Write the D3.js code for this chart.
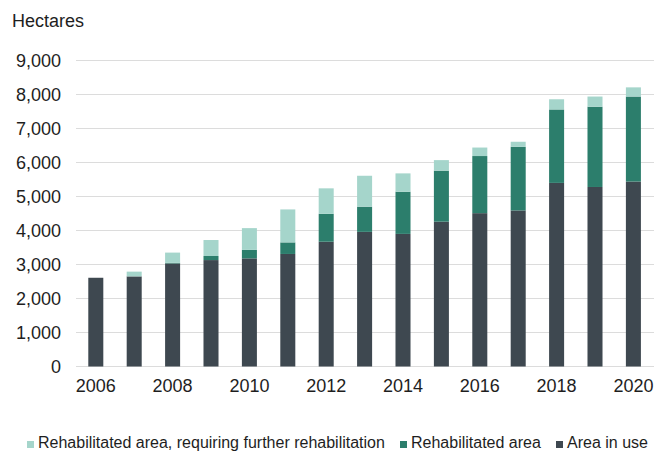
<!DOCTYPE html>
<html>
<head>
<meta charset="utf-8">
<script src="https://cdn.jsdelivr.net/npm/d3@7"></script>
<style>
  html, body { margin: 0; padding: 0; background: #fff; }
  svg { display: block; font-family: "Liberation Sans", Arial, sans-serif; }
</style>
</head>
<body>
<svg id="chart" width="654" height="452"></svg>
<script>
const years = [2006, 2007, 2008, 2009, 2010, 2011, 2012, 2013, 2014, 2015, 2016, 2017, 2018, 2019, 2020];
const areaInUse = [2610, 2650, 3030, 3130, 3180, 3310, 3670, 3960, 3900, 4260, 4510, 4590, 5400, 5280, 5440];
const rehabilitated = [0, 0, 20, 120, 250, 340, 820, 740, 1240, 1500, 1680, 1870, 2160, 2360, 2500];
const furtherRehab = [0, 140, 300, 470, 640, 970, 750, 910, 540, 310, 250, 150, 300, 300, 270];
const yTicks = [0, 1000, 2000, 3000, 4000, 5000, 6000, 7000, 8000, 9000];
const xTickLabels = [2006, 2008, 2010, 2012, 2014, 2016, 2018, 2020];
const seriesNames = ["Area in use", "Rehabilitated area", "Rehabilitated area, requiring further rehabilitation"];
const seriesColors = ["#3e4850", "#2c7e6c", "#a5d5cb"];
const legendOrder = [2, 1, 0];

const svg = d3.select("#chart");

const x = d3.scaleBand().domain(years).range([76.6, 652.6]).paddingInner(0.609).paddingOuter(0.3045);
const y = d3.scaleLinear().domain([0, 9000]).range([366.5, 60.5]);

// gridlines
svg.append("g").selectAll("line").data(yTicks).join("line")
  .attr("x1", 76).attr("x2", 654)
  .attr("y1", d => y(d)).attr("y2", d => y(d))
  .attr("stroke", "#dcdcdc").attr("stroke-width", 1);

// y axis labels
const yAxis = d3.axisLeft(y).tickValues(yTicks).tickFormat(d3.format(",")).tickSize(0).tickPadding(0);
const yg = svg.append("g").attr("transform", "translate(61,0)").call(yAxis);
yg.select(".domain").remove();
yg.selectAll("text").attr("font-size", 18).attr("fill", "#1e1e1e").attr("font-family", "Liberation Sans, Arial, sans-serif");

// x axis labels
const xAxis = d3.axisBottom(x).tickValues(xTickLabels).tickSize(0).tickPadding(0);
const xg = svg.append("g").attr("transform", "translate(0,379)").call(xAxis);
xg.select(".domain").remove();
xg.selectAll("text").attr("font-size", 18).attr("fill", "#1e1e1e").attr("font-family", "Liberation Sans, Arial, sans-serif");

// stacked bars
const table = years.map((yr, i) => ({ year: yr, s0: areaInUse[i], s1: rehabilitated[i], s2: furtherRehab[i] }));
const stack = d3.stack().keys(["s0", "s1", "s2"]);
const layers = stack(table);
svg.append("g").selectAll("g").data(layers).join("g")
  .attr("fill", (d, i) => seriesColors[i])
  .selectAll("rect").data(d => d).join("rect")
  .attr("x", d => x(d.data.year))
  .attr("width", x.bandwidth())
  .attr("y", d => y(d[1]))
  .attr("height", d => Math.max(0, y(d[0]) - y(d[1])));

// y title
svg.append("text").attr("x", 12).attr("y", 27).attr("font-size", 18).attr("fill", "#1e1e1e").text("Hectares");

// legend
const legendX = [27, 400, 556];
const lg = svg.append("g");
legendOrder.forEach((si, k) => {
  lg.append("rect").attr("x", legendX[k]).attr("y", 441).attr("width", 7).attr("height", 7).attr("fill", seriesColors[si]);
  lg.append("text").attr("x", legendX[k] + 11).attr("y", 448).attr("font-size", 16).attr("fill", "#1e1e1e").text(seriesNames[si]);
});
</script>
</body>
</html>
